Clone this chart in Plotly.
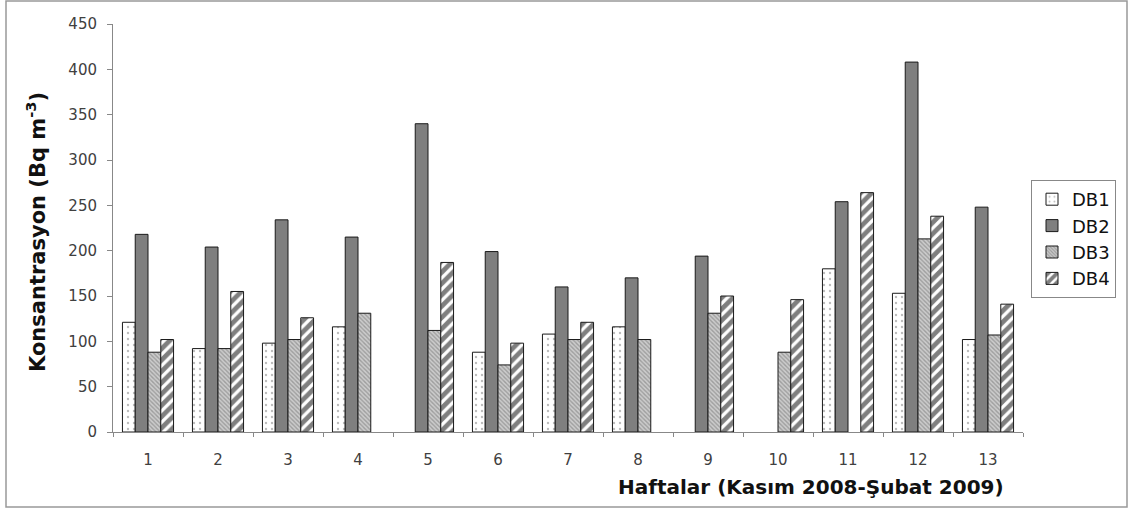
import plotly.graph_objects as go

weeks = ["1", "2", "3", "4", "5", "6", "7", "8", "9", "10", "11", "12", "13"]
db1 = [121, 92, 98, 116, None, 88, 108, 116, None, None, 180, 153, 102]
db2 = [218, 204, 234, 215, 340, 199, 160, 170, 194, None, 254, 408, 248]
db3 = [88, 92, 102, 131, 112, 74, 102, 102, 131, 88, None, 213, 107]
db4 = [102, 155, 126, None, 187, 98, 121, None, 150, 146, 264, 238, 141]
y_ticks = [0, 50, 100, 150, 200, 250, 300, 350, 400, 450]

W, H = 1129, 509
L, R, T, B = 113, 1023, 24, 432

def px(x):
    return (x - L) / (R - L)

def py(y):
    return (B - y) / (B - T)

FONT = "DejaVu Sans, Liberation Sans, Arial"
line = dict(color="#1a1a1a", width=1)
fig = go.Figure()
fig.add_trace(go.Bar(name="DB1", x=weeks, y=db1, marker=dict(
    color="white", line=line,
    pattern=dict(shape=".", size=6, solidity=0.12, fgcolor="#777", bgcolor="white"))))
fig.add_trace(go.Bar(name="DB2", x=weeks, y=db2, marker=dict(color="#7f7f7f", line=line)))
fig.add_trace(go.Bar(name="DB3", x=weeks, y=db3, marker=dict(
    color="#b8b8b8", line=line,
    pattern=dict(shape="\\", size=3, solidity=0.45, fgcolor="#6e6e6e", bgcolor="#cccccc"))))
fig.add_trace(go.Bar(name="DB4", x=weeks, y=db4, marker=dict(
    color="white", line=line,
    pattern=dict(shape="/", size=8, solidity=0.6, fgcolor="#000", bgcolor="white"))))

fig.update_layout(
    width=W, height=H,
    margin=dict(l=L, r=W - R, t=T, b=H - B),
    paper_bgcolor="white", plot_bgcolor="white",
    barmode="group", bargap=0.27, bargroupgap=0,
    font=dict(family=FONT, size=14, color="#404040"),
    legend=dict(x=px(1031), y=py(180), xanchor="left", yanchor="top",
                bordercolor="#888", borderwidth=1,
                font=dict(family=FONT, size=18, color="#111"),
                itemwidth=30),
    xaxis=dict(type="category", showline=True, linecolor="#888", linewidth=1,
               ticks="outside", tickson="boundaries", ticklen=4, tickcolor="#888",
               showgrid=False, ticklabelstandoff=14,
               tickfont=dict(family=FONT, size=15, color="#404040")),
    yaxis=dict(range=[0, 450], tickvals=y_ticks, showline=True, linecolor="#888",
               linewidth=1, ticks="outside", ticklen=5, tickcolor="#888",
               showgrid=False, zeroline=False, ticklabelstandoff=7,
               tickfont=dict(family=FONT, size=15, color="#404040")),
    annotations=[
        dict(text="<b>Haftalar (Kasım 2008-Şubat 2009)</b>", xref="paper", yref="paper",
             x=px(1006), y=py(487), xanchor="right", yanchor="middle", showarrow=False,
             font=dict(family=FONT, size=20, color="#111")),
        dict(text="<b>Konsantrasyon (Bq m<sup>-3</sup>)</b>", xref="paper", yref="paper",
             x=px(36), y=py(232), xanchor="center", yanchor="middle", showarrow=False,
             textangle=-90, font=dict(family=FONT, size=21, color="#111")),
    ],
    shapes=[dict(type="rect", xref="paper", yref="paper",
                 x0=px(6), x1=px(1127), y0=py(507), y1=py(1),
                 line=dict(color="#999", width=1.5))],
)

fig.write_html("out.html", config={"displayModeBar": False},
               post_script="document.body.style.margin='0';")
